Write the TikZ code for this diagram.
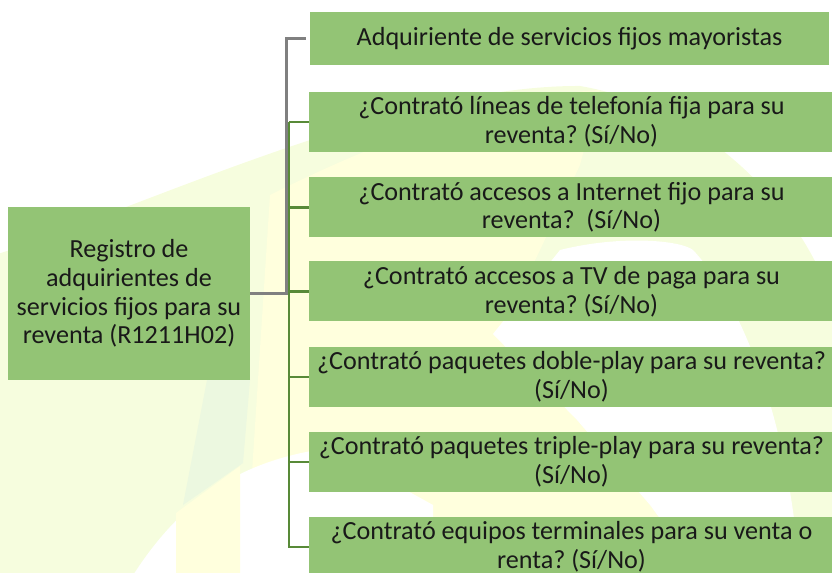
\documentclass[tikz,border=0pt]{standalone}
\usepackage{fontspec}
\setmainfont{Carlito}
\definecolor{boxgreen}{RGB}{147,196,117}
\definecolor{linkgreen}{RGB}{88,138,56}
\definecolor{linkgray}{RGB}{128,128,128}
\definecolor{paleyellow}{RGB}{255,255,221}
\definecolor{palelime}{RGB}{246,253,222}
\definecolor{palegreen}{RGB}{236,248,224}
\definecolor{textdark}{RGB}{25,25,25}
\frenchspacing

\begin{document}
\begin{tikzpicture}[x=0.75pt, y=-0.75pt]
    \tikzstyle{root box}=[
        fill = boxgreen,
        text = textdark,
        minimum width = 181.5pt,
        minimum height = 129.75pt,
        inner sep = 0pt,
        align = center,
        font = \fontsize{19.6}{21.4}\selectfont
    ]
    \tikzstyle{item box}=[
        fill = boxgreen,
        text = textdark,
        minimum width = 393.75pt,
        minimum height = 45pt,
        inner sep = 0pt,
        align = center,
        font = \fontsize{19.6}{21.4}\selectfont
    ]
    \tikzstyle{gray link}=[draw = linkgray, line width = 2.1pt]
    \tikzstyle{green link}=[draw = linkgreen, line width = 2pt]

    \useasboundingbox (0,0) rectangle (832,573);
    \clip (0,0) rectangle (832,573);

    % faint logo behind the chart
    \fill[palelime] (-5,255) .. controls (160,200) and (400,85) .. (580,86)
        .. controls (720,110) and (820,230) .. (840,330) -- (840,580) -- (-5,580) -- cycle;
    \fill[paleyellow] (270,195) .. controls (380,140) and (500,95) .. (600,90)
        -- (580,165) -- (540,250) -- (500,334) -- (577,420) -- (650,505) -- (705,580)
        -- (245,580) -- cycle;
    \fill[white] (560,250) .. controls (620,235) and (680,240) .. (693,250)
        .. controls (740,300) and (790,420) .. (800,580) -- (705,580) -- (650,505)
        -- (577,420) -- (493,334) -- cycle;
    \fill[white] (130,580) .. controls (180,500) and (240,460) .. (330,448)
        -- (433,505) -- (433,580) -- cycle;
    \fill[paleyellow] (176,513) -- (240,466) -- (240,580) -- (176,580) -- cycle;
    \fill[palegreen] (207,380) -- (250,380) -- (243,463) -- (183,505) -- cycle;

	\node[root box] (root) at (129, 293.5)
	    {Registro de\\adquirientes de\\servicios fijos para su\\reventa (R1211H02)};
	\node[item box, minimum width = 389.25pt, minimum height = 39.75pt]
	    (mayo) at (569.5, 38.5) {Adquiriente de servicios fijos mayoristas};
	\node[item box] (tel)  at (571.5, 122)   {¿Contrató líneas de telefonía fija para su\\reventa? (Sí/No)};
	\node[item box] (inet) at (571.5, 207.5) {¿Contrató accesos a Internet fijo para su\\reventa?~~(Sí/No)};
	\node[item box] (tv)   at (571.5, 291.5) {¿Contrató accesos a TV de paga para su\\reventa? (Sí/No)};
	\node[item box] (dbl)  at (571.5, 377)   {¿Contrató paquetes doble-play para su reventa?\\(Sí/No)};
	\node[item box] (tpl)  at (571.5, 462)   {¿Contrató paquetes triple-play para su reventa?\\(Sí/No)};
	\node[item box] (eqp)  at (571.5, 547)   {¿Contrató equipos terminales para su venta o\\renta? (Sí/No)};

	\coordinate (trunk) at (289, 122);

	\draw[gray link] (root.east) -- ++(36,0) |- ([xshift=-3pt]mayo.west);
	\draw[green link] (trunk) -- (tel.west);
	\foreach \q in {inet, tv, dbl, tpl, eqp}
	    \draw[green link] (trunk) |- (\q.west);

\end{tikzpicture}
\end{document}
